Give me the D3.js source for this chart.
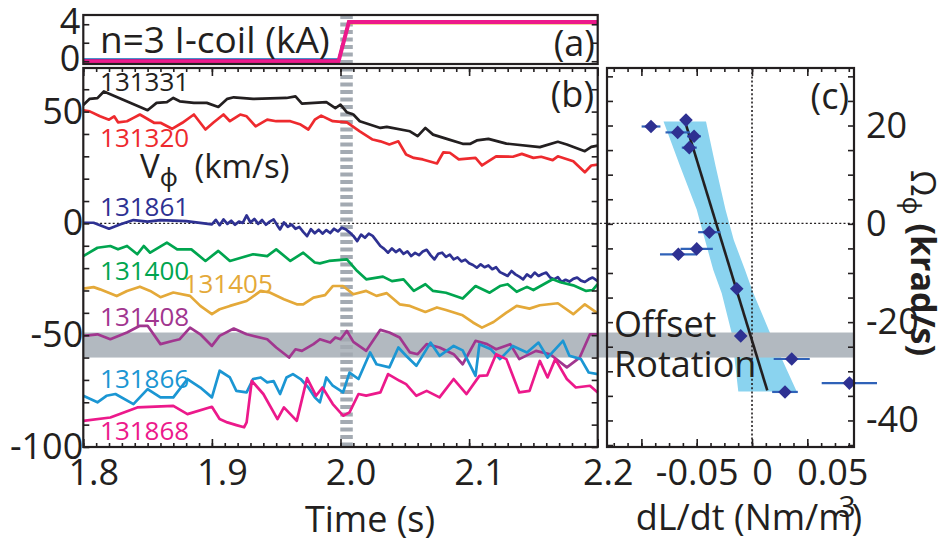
<!DOCTYPE html>
<html lang="en">
<head>
<meta charset="UTF-8">
<script src="https://cdn.jsdelivr.net/npm/d3@7"></script>
<style>
  body { margin: 0; background: #fff; }
  svg text { font-family: "Open Sans", "Noto Sans", sans-serif; fill: #231f20; }
</style>
<title>Offset rotation</title>
</head>
<body>
<div id="chart"></div>
<script>
// ---- data ----
var shots = ["131331", "131320", "131861", "131400", "131405", "131408", "131866", "131868"];
var shotColors = ["#231f20", "#ee2a2e", "#2e3192", "#00a54f", "#e4a939", "#a1368f", "#1b96d3", "#ec198b"];

var t131331 = [1.800,1.805,1.811,1.816,1.850,1.857,1.865,1.870,1.875,1.886,1.896,1.905,1.912,1.917,1.932,1.958,1.965,1.970,1.989,1.996,2.000,2.005,2.010,2.015,2.031,2.036,2.054,2.060,2.066,2.072,2.082,2.095,2.101,2.106,2.115,2.129,2.155,2.169,2.176,2.190,2.195,2.200];
var v131331 = [53,55.7,56,59,50.6,53.9,54.2,56.1,54.6,53.9,53.9,52.1,55.7,56.4,55.7,56.1,56.8,53.6,54.2,51.6,53.1,49.7,48.7,45.7,42.7,43.2,41.2,39,42.7,39.7,37.9,35.6,35.6,37.1,37.8,35.7,34.1,36.5,35.3,32.3,34.2,34.8];

var t131320 = [1.800,1.805,1.813,1.820,1.824,1.827,1.834,1.839,1.844,1.855,1.860,1.869,1.877,1.886,1.895,1.901,1.909,1.914,1.922,1.927,1.934,1.943,1.950,1.961,1.969,1.975,1.980,1.985,1.994,2.005,2.015,2.025,2.031,2.038,2.045,2.051,2.057,2.064,2.075,2.080,2.085,2.092,2.105,2.110,2.121,2.134,2.141,2.150,2.156,2.165,2.169,2.181,2.190,2.195,2.200];
var v131320 = [50.6,50.1,47.9,46.4,47.9,45.2,45.7,47.2,48.7,45,45,42.3,45,48.7,42,45,48.7,45.7,48.7,47.9,43.4,46.4,45.7,45.7,44.2,42,46.4,48.2,45.7,45.2,41.2,37.5,36.7,35.3,36.7,30.8,29.3,28.6,26.8,31.8,31.6,28.6,29.3,25.9,30,29.8,31.1,29.3,29.8,28.3,30,27.8,22.9,25.9,26.3];

var t131861 = [1.800,1.808,1.820,1.829,1.839,1.850,1.860,1.880,1.900,1.903,1.906,1.909,1.912,1.915,1.918,1.921,1.924,1.927,1.930,1.933,1.936,1.939,1.942,1.945,1.948,1.951,1.953,1.956,1.959,1.962,1.965,1.968,1.971,1.974,1.977,1.980,1.983,1.986,1.989,1.992,1.995,1.998,2.001,2.004,2.007,2.010,2.013,2.016,2.019,2.022,2.025,2.028,2.031,2.034,2.037,2.040,2.043,2.046,2.049,2.052,2.055,2.058,2.061,2.064,2.067,2.070,2.073,2.076,2.079,2.082,2.085,2.088,2.091,2.094,2.097,2.100,2.103,2.106,2.109,2.112,2.115,2.118,2.121,2.124,2.127,2.130,2.133,2.136,2.139,2.142,2.145,2.148,2.151,2.154,2.157,2.160,2.163,2.166,2.169,2.172,2.175,2.178,2.181,2.184,2.187,2.190,2.193,2.196,2.200];
var v131861 = [0.3,0.3,-2.4,-0.4,1.5,0.8,1.5,1,-0.4,1.6,-0.8,1.8,-0.2,1.2,-0.6,0.8,0.2,3.6,0.4,2.0,-0.2,1.5,-0.6,0.8,1.8,-1.0,-2.7,0.4,-1.5,-0.5,-2.4,-1.6,-3.8,-5.7,-2.6,-4.4,-2.8,-4.6,-3.0,-4.3,-2.4,-3.6,-1.9,-2.6,-4.0,-5.6,-7.9,-5.0,-6.4,-4.6,-5.6,-7.8,-10.1,-11.4,-13.1,-11.2,-12.8,-11.6,-13.6,-12.5,-14.6,-13.2,-14.2,-12.6,-11.8,-14.2,-16.1,-13.6,-13.1,-15.0,-14.0,-16.1,-15.2,-17.0,-16.2,-17.8,-18.6,-19.8,-18.3,-19.6,-18.8,-20.5,-19.6,-21.8,-22.6,-23.5,-21.3,-22.8,-23.8,-25.0,-22.8,-24.0,-22.0,-23.5,-22.6,-22.0,-24.2,-25.0,-24.0,-26.2,-25.2,-26.0,-24.8,-24.2,-25.6,-26.2,-25.0,-24.2,-25.8];

var t131400 = [1.800,1.811,1.821,1.827,1.834,1.842,1.847,1.852,1.865,1.873,1.884,1.895,1.905,1.914,1.932,1.943,1.950,1.961,1.971,1.980,1.984,1.991,2.005,2.013,2.020,2.033,2.040,2.049,2.057,2.066,2.072,2.082,2.095,2.105,2.116,2.124,2.130,2.137,2.145,2.150,2.165,2.171,2.181,2.191,2.196,2.200];
var v131400 = [-14.6,-10.9,-10.1,-11.6,-10.1,-13.8,-10.1,-13.1,-8.6,-11.6,-11.6,-16.8,-12.3,-16.8,-13.8,-14.6,-11.6,-16.8,-13.1,-17.5,-17.9,-16.8,-16.1,-21.3,-25,-23.8,-25.8,-25,-30.2,-27.2,-30.2,-31,-33.6,-28,-31,-28,-27.2,-30.6,-28.4,-29.8,-25,-26.3,-27.7,-30.2,-29.8,-27.2];

var t131405 = [1.800,1.808,1.813,1.826,1.834,1.844,1.852,1.860,1.870,1.883,1.891,1.900,1.906,1.914,1.927,1.938,1.945,1.956,1.966,1.971,1.979,1.988,1.994,2.002,2.010,2.020,2.028,2.036,2.046,2.054,2.066,2.075,2.082,2.095,2.103,2.110,2.119,2.129,2.137,2.147,2.155,2.169,2.181,2.190,2.200];
var v131405 = [-29.2,-28.5,-29.5,-32.5,-30.2,-28.3,-30.2,-33.0,-30.9,-32.4,-36.9,-40.6,-38.4,-36.9,-34.7,-30.2,-30.9,-33.9,-36.2,-36.2,-33.2,-32.1,-28.0,-28.0,-31.7,-30.2,-32.4,-31.2,-36.2,-36.9,-39.6,-37.6,-38.7,-41.1,-44.3,-46.6,-44.1,-39.9,-36.9,-38.1,-36.6,-35.7,-40.6,-36.2,-40.2];

var t131408 = [1.800,1.811,1.821,1.834,1.844,1.850,1.860,1.870,1.875,1.883,1.891,1.900,1.906,1.917,1.927,1.943,1.950,1.960,1.965,1.970,1.979,1.984,1.992,1.996,2.000,2.005,2.010,2.020,2.031,2.038,2.046,2.054,2.060,2.067,2.077,2.088,2.095,2.105,2.114,2.121,2.132,2.139,2.152,2.163,2.176,2.186,2.194,2.200];
var v131408 = [-50.3,-49.6,-51.8,-48.8,-45.8,-45.8,-54.0,-52.5,-51.8,-46.6,-49.6,-54.8,-50.3,-47.0,-49.6,-51.8,-55.5,-60.0,-56.3,-57.0,-54.0,-51.8,-53.3,-51.0,-51.8,-48.1,-53.0,-57.0,-47.6,-48.8,-51.0,-57.7,-58.5,-54.0,-55.5,-58.5,-63.0,-52.5,-54.0,-56.3,-54.0,-60.7,-57.0,-58.5,-64.4,-60.0,-49.6,-49.6];

var t131866 = [1.800,1.811,1.818,1.825,1.839,1.850,1.860,1.870,1.881,1.891,1.900,1.906,1.914,1.919,1.927,1.932,1.938,1.943,1.948,1.953,1.958,1.963,1.969,1.975,1.980,1.984,1.989,1.994,2.002,2.007,2.014,2.023,2.028,2.038,2.045,2.051,2.059,2.070,2.077,2.088,2.095,2.105,2.108,2.117,2.124,2.134,2.145,2.154,2.161,2.173,2.178,2.187,2.193,2.200];
var v131866 = [-77.1,-80.0,-77.1,-76.3,-80.8,-74.1,-77.8,-77.8,-69.6,-73.4,-77.8,-65.9,-68.9,-74.9,-75.6,-69.6,-68.9,-71.1,-70.5,-76.3,-68.9,-67.4,-69.6,-73.4,-77.8,-80.0,-68.9,-72.6,-75.6,-66.7,-69.6,-57.7,-63.0,-64.4,-55.5,-59.2,-63.7,-53.3,-59.2,-54.8,-56.8,-68.2,-54.0,-56.3,-60.7,-54.8,-57.7,-53.3,-60.0,-52.5,-59.2,-60.7,-66.7,-67.4];

var t131868 = [1.800,1.821,1.842,1.870,1.881,1.900,1.906,1.912,1.919,1.925,1.927,1.931,1.940,1.951,1.956,1.966,1.974,1.981,1.986,1.994,2.002,2.007,2.014,2.020,2.031,2.037,2.046,2.051,2.059,2.067,2.077,2.088,2.098,2.108,2.114,2.121,2.129,2.139,2.147,2.155,2.161,2.167,2.176,2.183,2.194,2.200];
var v131868 = [-88.3,-86.8,-82.3,-81.6,-85.3,-82.0,-87.5,-89.0,-90.2,-91.2,-89.0,-70.4,-76.3,-87.5,-82.3,-88.3,-69.2,-77.1,-73.4,-80.8,-86.0,-84.5,-76.3,-77.0,-75.6,-67.4,-70.4,-71.9,-77.1,-74.9,-77.8,-69.6,-76.3,-68.2,-68.0,-58.5,-60.7,-75.6,-74.9,-61.5,-68.9,-60.7,-69.6,-73.4,-72.6,-75.6];

// n=3 I-coil current (kA), panel (a)
var coilTime = [1.8, 1.9985, 2.0065, 2.2];
var coilShots = ["131866", "131405", "131861", "131868"];
var coil131866 = [0.2, 0.2, 4.35, 4.35];
var coil131405 = [0.05, 0.05, 4.1, 4.1];
var coil131861 = [0.15, 0.15, 4.3, 4.3];
var coil131868 = [0, 0, 4.25, 4.25];

// panel (c): torque density vs rotation
var dLdt    = [-0.0913, -0.0597, -0.0672, -0.0524, -0.0567, -0.0386, -0.0500, -0.0666, -0.0138, -0.0102, 0.0359, 0.0298, 0.0880];
var dLdtErr = [0.0085, 0.002, 0.011, 0.0063, 0.0068, 0.0101, 0.0146, 0.0166, 0.002, 0.002, 0.0163, 0.0116, 0.025];
var omega   = [19.8, 21.1, 18.6, 17.8, 15.5, -1.7, -5.1, -6.2, -13.2, -22.8, -27.5, -34.2, -32.4];
var fitDL = [-0.0597, 0.0138];
var fitOmega = [20.2, -33.9];
var bandOmega = [20.8, 11.7, 2.9, -3.3, -9.4, -14.1, -22.2, -34.1];
var bandLo = [-0.080, -0.065, -0.050, -0.0425, -0.035, -0.0274, -0.0184, -0.0124];
var bandHi = [-0.0416, -0.0329, -0.024, -0.0165, -0.0063, 0.0012, 0.0163, 0.0404];

// offset rotation band
var offsetV = [-60, -48.8];
var coilOnTime = 2.0047;

// ticks
var timeTicks = [1.8, 1.9, 2.0, 2.1, 2.2];
var vTicks = [-100, -50, 0, 50];
var coilTicks = [0, 4];
var dLTicks = [-0.05, 0, 0.05];
var omegaTicks = [-40, -20, 0, 20];

// ---- drawing ----
var W = 949, H = 542;
var ink = "#231f20";

var svg = d3.select("#chart").append("svg")
    .attr("width", W)
    .attr("height", H);

var xT = d3.scaleLinear().domain([1.8, 2.2]).range([83.3, 597.7]);
var yV = d3.scaleLinear().domain([-100, 69.5]).range([447, 68]);
var yA = d3.scaleLinear().domain([-0.3, 5]).range([64, 15]);
var xL = d3.scaleLinear().domain([-0.1311, 0.0922]).range([607, 854]);
var yO = d3.scaleLinear().domain([-45.4, 31.7]).range([447, 68]);

// confidence band of the fit (c)
var band = bandOmega.map(function(o, i) { return {o: o, lo: bandLo[i], hi: bandHi[i]}; });
svg.append("path")
  .datum(band)
  .attr("fill", "#8ad3ef")
  .attr("d", d3.area()
    .y(function(d) { return yO(d.o); })
    .x0(function(d) { return xL(d.lo); })
    .x1(function(d) { return xL(d.hi); }));

// offset rotation band across (b) and (c)
svg.append("rect")
  .attr("x", xT(1.8))
  .attr("width", xL.range()[1] - xT(1.8))
  .attr("y", yV(offsetV[1]))
  .attr("height", yV(offsetV[0]) - yV(offsetV[1]))
  .attr("fill", "#b2b9c0");

// coil switch-on marker
svg.append("line")
  .attr("x1", xT(coilOnTime)).attr("x2", xT(coilOnTime))
  .attr("y1", yA.range()[1]).attr("y2", yV.range()[0])
  .attr("stroke", "#a3aab2")
  .attr("stroke-width", 12.5)
  .attr("stroke-dasharray", "4,3.5");

// zero lines
svg.append("line")
  .attr("x1", xT(1.8)).attr("x2", xL.range()[1])
  .attr("y1", yV(0)).attr("y2", yV(0))
  .attr("stroke", ink).attr("stroke-width", 1.4).attr("stroke-dasharray", "2,2.2");
svg.append("line")
  .attr("x1", xL(0)).attr("x2", xL(0))
  .attr("y1", yO.range()[1]).attr("y2", yO.range()[0])
  .attr("stroke", ink).attr("stroke-width", 1.6).attr("stroke-dasharray", "2,2.2");

// panel (a) coil traces
var coilLine = d3.line()
  .x(function(d) { return xT(d[0]); })
  .y(function(d) { return yA(d[1]); });
var coilData = {"131866": coil131866, "131405": coil131405, "131861": coil131861, "131868": coil131868};
coilShots.forEach(function(s) {
  var vals = coilData[s];
  svg.append("path")
    .datum(coilTime.map(function(t, i) { return [t, vals[i]]; }))
    .attr("fill", "none")
    .attr("stroke", shotColors[shots.indexOf(s)])
    .attr("stroke-width", s == "131868" ? 4 : 2.2)
    .attr("d", coilLine);
});

// panel (b) rotation traces
var series = {
  "131331": [t131331, v131331], "131320": [t131320, v131320], "131861": [t131861, v131861],
  "131400": [t131400, v131400], "131405": [t131405, v131405], "131408": [t131408, v131408],
  "131866": [t131866, v131866], "131868": [t131868, v131868]
};
var vLine = d3.line()
  .x(function(d) { return xT(d[0]); })
  .y(function(d) { return yV(d[1]); });
shots.forEach(function(s, k) {
  var tv = series[s];
  svg.append("path")
    .datum(tv[0].map(function(t, i) { return [t, tv[1][i]]; }))
    .attr("fill", "none")
    .attr("stroke", shotColors[k])
    .attr("stroke-width", 2.7)
    .attr("stroke-linejoin", "round")
    .attr("d", vLine);
});

// shot labels
var labelAt = {
  "131331": [1.813, 63.2], "131320": [1.813, 38.2], "131861": [1.813, 7.3], "131400": [1.813, -21.3],
  "131405": [1.878, -27.1], "131408": [1.813, -41.9], "131866": [1.813, -69.6], "131868": [1.813, -92.8]
};
shots.forEach(function(s, k) {
  svg.append("text")
    .attr("x", xT(labelAt[s][0]))
    .attr("y", yV(labelAt[s][1]))
    .attr("dy", "0.36em")
    .attr("font-size", 26)
    .style("fill", shotColors[k])
    .text(s);
});

// panel (c) fit line, error bars and points
svg.append("line")
  .attr("x1", xL(fitDL[0])).attr("y1", yO(fitOmega[0]))
  .attr("x2", xL(fitDL[1])).attr("y2", yO(fitOmega[1]))
  .attr("stroke", ink).attr("stroke-width", 2.6);

svg.selectAll("line.err")
  .data(dLdt)
  .enter()
  .append("line")
    .attr("class", "err")
    .attr("x1", function(d, i) { return xL(d - dLdtErr[i]); })
    .attr("x2", function(d, i) { return xL(d + dLdtErr[i]); })
    .attr("y1", function(d, i) { return yO(omega[i]); })
    .attr("y2", function(d, i) { return yO(omega[i]); })
    .attr("stroke", "#2f62b8")
    .attr("stroke-width", 2.2);

svg.selectAll("path.pt")
  .data(dLdt)
  .enter()
  .append("path")
    .attr("class", "pt")
    .attr("d", d3.symbol().type(d3.symbolSquare).size(92))
    .attr("transform", function(d, i) {
      return "translate(" + xL(d) + "," + yO(omega[i]) + ") rotate(45)";
    })
    .attr("fill", "#2e3192");

// frames
function frame(x, y) {
  svg.append("rect")
    .attr("x", x.range()[0]).attr("y", y.range()[1])
    .attr("width", x.range()[1] - x.range()[0])
    .attr("height", y.range()[0] - y.range()[1])
    .attr("fill", "none").attr("stroke", ink).attr("stroke-width", 2.2);
}
frame(xT, yA);
frame(xT, yV);
frame(xL, yO);

// inward tick marks
function ticks(axis, scale, values, size, tx, ty) {
  svg.append("g")
    .attr("transform", "translate(" + tx + "," + ty + ")")
    .call(axis(scale).tickValues(values).tickSize(size).tickFormat(""))
    .call(function(g) { g.select(".domain").remove(); })
    .selectAll("line").attr("stroke", ink).attr("stroke-width", 1.6);
}
var minorT = d3.range(1.8, 2.2001, 0.01);
ticks(d3.axisBottom, xT, minorT, -4, 0, yV.range()[0]);
ticks(d3.axisBottom, xT, timeTicks, -8, 0, yV.range()[0]);
ticks(d3.axisTop, xT, minorT, -4, 0, yV.range()[1]);
ticks(d3.axisTop, xT, timeTicks, -8, 0, yV.range()[1]);
var minorV = d3.range(-100, 70, 10);
ticks(d3.axisLeft, yV, minorV, -6, xT.range()[0], 0);
ticks(d3.axisRight, yV, minorV, -6, xT.range()[1], 0);
ticks(d3.axisLeft, yA, [0, 2, 4], -6, xT.range()[0], 0);
ticks(d3.axisRight, yA, [0, 2, 4], -6, xT.range()[1], 0);

var minorL = d3.range(-0.125, 0.09, 0.0125);
ticks(d3.axisBottom, xL, minorL, -4, 0, yO.range()[0]);
ticks(d3.axisBottom, xL, [-0.1, -0.05, 0, 0.05], -8, 0, yO.range()[0]);
ticks(d3.axisTop, xL, minorL, -4, 0, yO.range()[1]);
ticks(d3.axisTop, xL, [-0.1, -0.05, 0, 0.05], -8, 0, yO.range()[1]);
var minorO = d3.range(-45, 31, 5);
ticks(d3.axisLeft, yO, minorO, -6, xL.range()[0], 0);
ticks(d3.axisRight, yO, minorO, -6, xL.range()[1], 0);

// tick labels
function labels(axis, scale, values, pad, tx, ty, fmt) {
  return svg.append("g")
    .attr("transform", "translate(" + tx + "," + ty + ")")
    .call(axis(scale).tickValues(values).tickSize(0).tickPadding(pad).tickFormat(fmt))
    .call(function(g) { g.select(".domain").remove(); })
    .attr("font-size", 36)
    .attr("font-family", null)
    .selectAll("text");
}
labels(d3.axisBottom, xT, timeTicks, 12, 0, yV.range()[0], d3.format(".1f"))
  .attr("dx", 10);
labels(d3.axisLeft, yV, vTicks, 0, xT.range()[0], 0, String);
labels(d3.axisLeft, yA, coilTicks, 3, xT.range()[0], 0, String)
  .attr("dy", function(d) { return d == 4 ? "0.25em" : "0.25em"; });
labels(d3.axisBottom, xL, dLTicks, 12, 0, yO.range()[0], String)
  .attr("dx", function(d) { return d == 0 ? 10 : (d > 0 ? 25 : 0); });
labels(d3.axisRight, yO, omegaTicks, 12, xL.range()[1], 0, String);

// panel letters and annotations
svg.append("text").attr("x", 595).attr("y", 56).attr("text-anchor", "end").attr("font-size", 36).text("(a)");
svg.append("text").attr("x", 594).attr("y", 107).attr("text-anchor", "end").attr("font-size", 36).text("(b)");
svg.append("text").attr("x", 849).attr("y", 109).attr("text-anchor", "end").attr("font-size", 36).text("(c)");
svg.append("text").attr("x", 100).attr("y", 53).attr("font-size", 37).text("n=3 I-coil (kA)");

var vlab = svg.append("text").attr("x", 140).attr("y", 178).attr("font-size", 33);
vlab.append("tspan").text("V");
vlab.append("tspan").attr("font-size", 25).attr("dy", 8).text("\u03d5");
vlab.append("tspan").attr("dy", -8).attr("dx", 8).text(" (km/s)");

svg.append("text").attr("x", 614).attr("y", 337).attr("font-size", 36).text("Offset");
svg.append("text").attr("x", 614).attr("y", 377).attr("font-size", 36).text("Rotation");

svg.append("text").attr("x", 370).attr("y", 532).attr("text-anchor", "middle").attr("font-size", 36).text("Time (s)");
svg.append("text").attr("x", 749).attr("y", 530).attr("text-anchor", "middle").attr("font-size", 36).text("dL/dt (Nm/m)");
svg.append("text").attr("x", 847).attr("y", 517).attr("text-anchor", "middle").attr("font-size", 30).text("3");

var olab = svg.append("text")
  .attr("transform", "translate(911,263) rotate(90)")
  .attr("text-anchor", "middle")
  .attr("font-size", 34);
olab.append("tspan").text("\u03a9");
olab.append("tspan").attr("font-size", 25).attr("dy", 8).text("\u03d5");
olab.append("tspan").attr("dy", -8).attr("font-weight", "bold").text(" (krad/s)");
</script>
</body>
</html>
